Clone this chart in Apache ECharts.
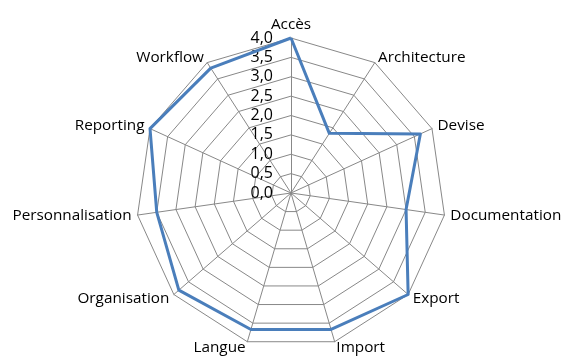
<!DOCTYPE html>
<html>
<head>
<meta charset="utf-8">
<script src="https://cdn.jsdelivr.net/npm/echarts@6/dist/echarts.min.js"></script>
<style>
html,body{margin:0;padding:0;background:#fff;}
#c{width:566px;height:361px;}
</style>
</head>
<body>
<div id="c"></div>
<script>
// Categories in clockwise order starting at the top
const categories = ['Accès','Architecture','Devise','Documentation','Export','Import','Langue','Organisation','Personnalisation','Reporting','Workflow'];
const values = [4.0, 1.83, 3.67, 3.0, 4.0, 3.67, 3.67, 3.83, 3.5, 4.0, 3.83];
const axisMin = 0;
const axisMax = 4;
const axisStep = 0.5;

// ECharts places radar indicators counter-clockwise; reorder to get clockwise layout
const order = [0].concat(categories.map((_, i) => i).slice(1).reverse());
const indicators = order.map(i => ({ name: categories[i], max: axisMax, min: axisMin }));
const seriesValues = order.map(i => values[i]);

const FONT = 'Open Sans';
const chart = echarts.init(document.getElementById('c'), null, { renderer: 'canvas' });
chart.setOption({
  animation: false,
  backgroundColor: '#ffffff',
  radar: {
    center: [291, 193],
    radius: 155,
    startAngle: 90,
    shape: 'polygon',
    splitNumber: (axisMax - axisMin) / axisStep,
    indicator: indicators,
    nameGap: 6,
    axisName: { color: '#000', fontSize: 15.3, fontFamily: FONT },
    axisLine: { lineStyle: { color: '#888', width: 1 } },
    splitLine: { lineStyle: { color: '#888', width: 1 } },
    splitArea: { show: false },
    axisTick: { show: false },
    axisLabel: { show: false }
  },
  grid: { left: 291, top: 38, width: 1, height: 155, containLabel: false },
  xAxis: { type: 'value', show: false, min: 0, max: 1 },
  yAxis: {
    type: 'value', min: axisMin, max: axisMax, interval: axisStep,
    axisLine: { show: false }, axisTick: { show: false }, splitLine: { show: false },
    axisLabel: {
      margin: 18, color: '#000', fontSize: 16, fontFamily: FONT,
      formatter: v => v.toFixed(1).replace('.', ',')
    }
  },
  series: [{
    type: 'radar',
    symbol: 'none',
    lineStyle: { color: '#4a7ebb', width: 3 },
    data: [{ value: seriesValues }]
  }]
});
</script>
</body>
</html>
